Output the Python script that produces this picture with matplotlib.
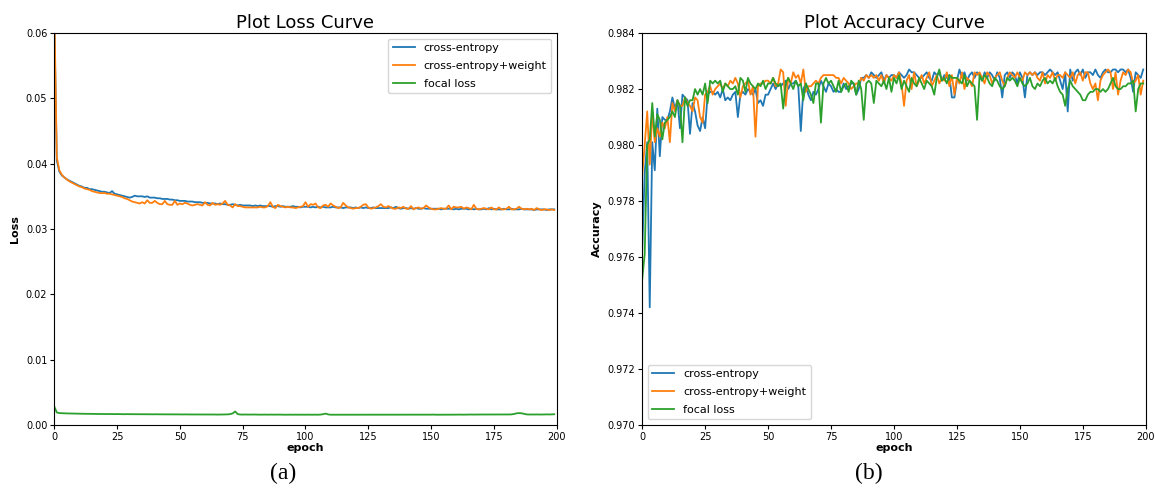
import matplotlib.pyplot as plt

epochs = list(range(200))
series_names = ["cross-entropy", "cross-entropy+weight", "focal loss"]

loss_ce = [
    0.0620, 0.0405, 0.0388, 0.0382, 0.0379, 0.0376, 0.0374, 0.0372, 0.0370, 0.0368,
    0.0366, 0.0365, 0.0363, 0.0363, 0.0361, 0.0361, 0.0360, 0.0359, 0.0358, 0.0357,
    0.0357, 0.0356, 0.0355, 0.0358, 0.0354, 0.0353, 0.0352, 0.0351, 0.0350, 0.0349,
    0.0348, 0.0349, 0.0351, 0.0350, 0.0350, 0.0350, 0.0349, 0.0350, 0.0348, 0.0348,
    0.0348, 0.0347, 0.0347, 0.0346, 0.0346, 0.0346, 0.0345, 0.0345, 0.0344, 0.0344,
    0.0343, 0.0343, 0.0343, 0.0342, 0.0342, 0.0342, 0.0341, 0.0341, 0.0341, 0.0340,
    0.0340, 0.0340, 0.0339, 0.0339, 0.0339, 0.0338, 0.0339, 0.0338, 0.0338, 0.0337,
    0.0337, 0.0338, 0.0337, 0.0336, 0.0337, 0.0336, 0.0336, 0.0336, 0.0336, 0.0335,
    0.0336, 0.0335, 0.0336, 0.0335, 0.0335, 0.0335, 0.0335, 0.0334, 0.0335, 0.0335,
    0.0334, 0.0335, 0.0334, 0.0334, 0.0334, 0.0335, 0.0334, 0.0334, 0.0333, 0.0334,
    0.0334, 0.0334, 0.0333, 0.0334, 0.0333, 0.0334, 0.0333, 0.0334, 0.0333, 0.0333,
    0.0333, 0.0334, 0.0333, 0.0333, 0.0333, 0.0332, 0.0333, 0.0333, 0.0333, 0.0332,
    0.0333, 0.0332, 0.0333, 0.0332, 0.0333, 0.0332, 0.0332, 0.0333, 0.0332, 0.0332,
    0.0332, 0.0332, 0.0332, 0.0332, 0.0333, 0.0332, 0.0334, 0.0332, 0.0331, 0.0332,
    0.0332, 0.0331, 0.0332, 0.0331, 0.0332, 0.0331, 0.0331, 0.0332, 0.0331, 0.0331,
    0.0331, 0.0331, 0.0331, 0.0331, 0.0330, 0.0331, 0.0331, 0.0331, 0.0331, 0.0330,
    0.0331, 0.0330, 0.0331, 0.0331, 0.0331, 0.0330, 0.0331, 0.0330, 0.0331, 0.0330,
    0.0330, 0.0331, 0.0330, 0.0332, 0.0330, 0.0331, 0.0330, 0.0330, 0.0330, 0.0331,
    0.0330, 0.0330, 0.0331, 0.0330, 0.0330, 0.0330, 0.0331, 0.0330, 0.0330, 0.0330,
    0.0330, 0.0329, 0.0330, 0.0330, 0.0330, 0.0330, 0.0329, 0.0330, 0.0330, 0.0330,
]

loss_cew = [
    0.0640, 0.0410, 0.0390, 0.0383, 0.0379, 0.0376, 0.0373, 0.0371, 0.0369, 0.0367,
    0.0365, 0.0364, 0.0362, 0.0361, 0.0360, 0.0358, 0.0357, 0.0356, 0.0355, 0.0355,
    0.0355, 0.0354, 0.0354, 0.0353, 0.0352, 0.0351, 0.0350, 0.0349, 0.0347, 0.0346,
    0.0344, 0.0342, 0.0341, 0.0340, 0.0339, 0.0341, 0.0339, 0.0344, 0.0340, 0.0340,
    0.0343, 0.0340, 0.0338, 0.0338, 0.0343, 0.0338, 0.0337, 0.0337, 0.0343, 0.0337,
    0.0339, 0.0338, 0.0340, 0.0339, 0.0337, 0.0336, 0.0337, 0.0338, 0.0337, 0.0336,
    0.0341, 0.0337, 0.0336, 0.0340, 0.0337, 0.0338, 0.0337, 0.0339, 0.0343, 0.0337,
    0.0336, 0.0333, 0.0338, 0.0335, 0.0335, 0.0334, 0.0333, 0.0333, 0.0333, 0.0333,
    0.0333, 0.0333, 0.0334, 0.0333, 0.0333, 0.0335, 0.0341, 0.0334, 0.0332, 0.0337,
    0.0335, 0.0334, 0.0333, 0.0334, 0.0333, 0.0333, 0.0332, 0.0333, 0.0334, 0.0335,
    0.0341, 0.0334, 0.0338, 0.0337, 0.0339, 0.0333, 0.0332, 0.0336, 0.0337, 0.0334,
    0.0339, 0.0336, 0.0334, 0.0332, 0.0333, 0.0340, 0.0336, 0.0333, 0.0332, 0.0331,
    0.0332, 0.0332, 0.0334, 0.0337, 0.0338, 0.0333, 0.0331, 0.0332, 0.0333, 0.0335,
    0.0338, 0.0334, 0.0333, 0.0335, 0.0333, 0.0331, 0.0331, 0.0333, 0.0332, 0.0334,
    0.0331, 0.0331, 0.0335, 0.0330, 0.0332, 0.0333, 0.0331, 0.0332, 0.0336, 0.0333,
    0.0331, 0.0330, 0.0330, 0.0331, 0.0332, 0.0331, 0.0331, 0.0336, 0.0330, 0.0334,
    0.0333, 0.0333, 0.0334, 0.0331, 0.0333, 0.0332, 0.0330, 0.0337, 0.0331, 0.0330,
    0.0331, 0.0332, 0.0331, 0.0330, 0.0333, 0.0330, 0.0330, 0.0333, 0.0330, 0.0330,
    0.0331, 0.0334, 0.0330, 0.0330, 0.0331, 0.0334, 0.0331, 0.0330, 0.0331, 0.0330,
    0.0331, 0.0329, 0.0332, 0.0330, 0.0329, 0.0330, 0.0330, 0.0329, 0.0330, 0.0329,
]

loss_focal = [
    0.00280, 0.00190, 0.00180, 0.00178, 0.00176, 0.00175, 0.00174, 0.00173, 0.00172, 0.00171,
    0.00170, 0.00170, 0.00169, 0.00169, 0.00168, 0.00168, 0.00167, 0.00167, 0.00166, 0.00166,
    0.00166, 0.00165, 0.00165, 0.00165, 0.00164, 0.00165, 0.00164, 0.00164, 0.00163, 0.00164,
    0.00163, 0.00163, 0.00163, 0.00162, 0.00163, 0.00162, 0.00162, 0.00162, 0.00162, 0.00161,
    0.00162, 0.00161, 0.00161, 0.00161, 0.00161, 0.00160, 0.00161, 0.00160, 0.00160, 0.00160,
    0.00160, 0.00159, 0.00160, 0.00159, 0.00159, 0.00159, 0.00160, 0.00159, 0.00158, 0.00159,
    0.00158, 0.00158, 0.00159, 0.00158, 0.00158, 0.00157, 0.00158, 0.00158, 0.00159, 0.00160,
    0.00164, 0.00175, 0.00205, 0.00165, 0.00158, 0.00157, 0.00158, 0.00157, 0.00157, 0.00158,
    0.00157, 0.00157, 0.00156, 0.00157, 0.00157, 0.00156, 0.00157, 0.00156, 0.00156, 0.00157,
    0.00156, 0.00156, 0.00155, 0.00156, 0.00156, 0.00155, 0.00156, 0.00155, 0.00156, 0.00155,
    0.00155, 0.00156, 0.00155, 0.00155, 0.00156, 0.00155, 0.00157, 0.00163, 0.00172, 0.00160,
    0.00155, 0.00155, 0.00154, 0.00155, 0.00155, 0.00154, 0.00155, 0.00154, 0.00155, 0.00154,
    0.00154, 0.00155, 0.00154, 0.00154, 0.00155, 0.00154, 0.00154, 0.00155, 0.00154, 0.00154,
    0.00154, 0.00155, 0.00154, 0.00154, 0.00155, 0.00154, 0.00155, 0.00154, 0.00154, 0.00155,
    0.00154, 0.00154, 0.00155, 0.00154, 0.00154, 0.00155, 0.00155, 0.00154, 0.00155, 0.00155,
    0.00156, 0.00157, 0.00155, 0.00155, 0.00156, 0.00155, 0.00155, 0.00156, 0.00155, 0.00156,
    0.00156, 0.00157, 0.00156, 0.00156, 0.00157, 0.00157, 0.00158, 0.00157, 0.00158, 0.00158,
    0.00158, 0.00159, 0.00158, 0.00158, 0.00159, 0.00158, 0.00159, 0.00159, 0.00158, 0.00159,
    0.00158, 0.00159, 0.00160, 0.00166, 0.00176, 0.00180, 0.00177, 0.00168, 0.00160, 0.00158,
    0.00159, 0.00158, 0.00159, 0.00158, 0.00158, 0.00159, 0.00160, 0.00159, 0.00161, 0.00162,
]

acc_ce = [
    0.9762, 0.9790, 0.9801, 0.9742, 0.9801, 0.9791, 0.9813, 0.9796, 0.9810, 0.9809,
    0.9809, 0.9812, 0.9817, 0.9813, 0.9816, 0.9806, 0.9818, 0.9817, 0.9816, 0.9804,
    0.9815, 0.9812, 0.9807, 0.9805, 0.9810, 0.9806, 0.9818, 0.9819, 0.9819, 0.9818,
    0.9819, 0.9817, 0.9820, 0.9816, 0.9817, 0.9816, 0.9818, 0.9819, 0.9810, 0.9818,
    0.9819, 0.9818, 0.9820, 0.9819, 0.9818, 0.9820, 0.9815, 0.9816, 0.9814, 0.9818,
    0.9818, 0.9820, 0.9822, 0.9820, 0.9822, 0.9821, 0.9822, 0.9823, 0.9820, 0.9822,
    0.9822, 0.9823, 0.9821, 0.9805, 0.9820, 0.9822, 0.9818, 0.9816, 0.9819, 0.9818,
    0.9820, 0.9823, 0.9821, 0.9819, 0.9822, 0.9821, 0.9819, 0.9820, 0.9819, 0.9819,
    0.9822, 0.9820, 0.9821, 0.9822, 0.9822, 0.9818, 0.9820, 0.9824, 0.9824, 0.9825,
    0.9824, 0.9826, 0.9825, 0.9824, 0.9825, 0.9826, 0.9823, 0.9825, 0.9824, 0.9825,
    0.9825, 0.9824, 0.9826, 0.9825, 0.9824, 0.9825, 0.9827, 0.9826, 0.9826, 0.9825,
    0.9824, 0.9824, 0.9825, 0.9826, 0.9824, 0.9823, 0.9826, 0.9825, 0.9826, 0.9823,
    0.9825, 0.9824, 0.9825, 0.9817, 0.9817, 0.9823, 0.9827, 0.9824, 0.9826, 0.9823,
    0.9825, 0.9826, 0.9824, 0.9826, 0.9825, 0.9823, 0.9826, 0.9824, 0.9826, 0.9825,
    0.9823, 0.9826, 0.9824, 0.9817, 0.9825, 0.9826, 0.9824, 0.9826, 0.9825, 0.9822,
    0.9826, 0.9824, 0.9817, 0.9825, 0.9826, 0.9825, 0.9826, 0.9825, 0.9826, 0.9826,
    0.9825, 0.9826, 0.9827, 0.9826, 0.9825, 0.9826, 0.9823, 0.9820, 0.9826, 0.9812,
    0.9827, 0.9823, 0.9826, 0.9827, 0.9825, 0.9827, 0.9824, 0.9826, 0.9826, 0.9825,
    0.9827, 0.9825, 0.9824, 0.9826, 0.9827, 0.9826, 0.9826, 0.9827, 0.9827, 0.9826,
    0.9827, 0.9827, 0.9826, 0.9827, 0.9824, 0.9819, 0.9826, 0.9825, 0.9824, 0.9827,
]

acc_cew = [
    0.9789, 0.9800, 0.9812, 0.9793, 0.9812, 0.9801, 0.9806, 0.9803, 0.9808, 0.9806,
    0.9810, 0.9801, 0.9815, 0.9812, 0.9816, 0.9814, 0.9814, 0.9817, 0.9815, 0.9814,
    0.9812, 0.9817, 0.9816, 0.9810, 0.9808, 0.9818, 0.9819, 0.9821, 0.9818, 0.9820,
    0.9821, 0.9822, 0.9820, 0.9822, 0.9821, 0.9823, 0.9822, 0.9824, 0.9822, 0.9817,
    0.9821, 0.9822, 0.9823, 0.9818, 0.9821, 0.9803, 0.9821, 0.9822, 0.9822, 0.9823,
    0.9823, 0.9822, 0.9824, 0.9821, 0.9822, 0.9827, 0.9826, 0.9814, 0.9824, 0.9822,
    0.9826, 0.9824, 0.9825, 0.9822, 0.9827, 0.9819, 0.9821, 0.9821, 0.9822, 0.9823,
    0.9822, 0.9824, 0.9825, 0.9825, 0.9825, 0.9825, 0.9825, 0.9824, 0.9824, 0.9822,
    0.9824, 0.9823, 0.9822, 0.9820, 0.9821, 0.9822, 0.9822, 0.9824, 0.9823, 0.9825,
    0.9824, 0.9825, 0.9824, 0.9825, 0.9823, 0.9825, 0.9822, 0.9825, 0.9824, 0.9823,
    0.9825, 0.9824, 0.9826, 0.9822, 0.9814, 0.9823, 0.9825, 0.9820, 0.9826, 0.9821,
    0.9823, 0.9825, 0.9822, 0.9824, 0.9826, 0.9821, 0.9823, 0.9825, 0.9822, 0.9824,
    0.9823, 0.9826, 0.9821, 0.9825, 0.9818, 0.9824, 0.9822, 0.9826, 0.9820, 0.9824,
    0.9823, 0.9821, 0.9826, 0.9825, 0.9826, 0.9824, 0.9822, 0.9826, 0.9825, 0.9822,
    0.9824, 0.9825, 0.9826, 0.9823, 0.9821, 0.9824, 0.9826, 0.9825, 0.9824, 0.9826,
    0.9824, 0.9823, 0.9826, 0.9825, 0.9826, 0.9825, 0.9826, 0.9824, 0.9823, 0.9826,
    0.9822, 0.9825, 0.9824, 0.9826, 0.9823, 0.9825, 0.9825, 0.9824, 0.9826, 0.9825,
    0.9824, 0.9826, 0.9822, 0.9825, 0.9826, 0.9823, 0.9826, 0.9826, 0.9822, 0.9820,
    0.9822, 0.9816, 0.9823, 0.9825, 0.9826, 0.9827, 0.9826, 0.9820, 0.9826, 0.9818,
    0.9823, 0.9826, 0.9825, 0.9827, 0.9826, 0.9822, 0.9823, 0.9825, 0.9818, 0.9823,
]

acc_focal = [
    0.9752, 0.9761, 0.9800, 0.9802, 0.9815, 0.9803, 0.9811, 0.9809, 0.9802, 0.9808,
    0.9809, 0.9810, 0.9812, 0.9810, 0.9816, 0.9814, 0.9801, 0.9817, 0.9814, 0.9816,
    0.9816, 0.9820, 0.9818, 0.9820, 0.9818, 0.9822, 0.9815, 0.9823, 0.9822, 0.9823,
    0.9822, 0.9823, 0.9819, 0.9822, 0.9821, 0.9820, 0.9820, 0.9821, 0.9818, 0.9824,
    0.9823, 0.9819, 0.9824, 0.9822, 0.9821, 0.9820, 0.9822, 0.9821, 0.9823, 0.9820,
    0.9822, 0.9822, 0.9824, 0.9822, 0.9821, 0.9822, 0.9813, 0.9822, 0.9824, 0.9822,
    0.9820, 0.9823, 0.9821, 0.9822, 0.9816, 0.9822, 0.9820, 0.9818, 0.9815, 0.9822,
    0.9822, 0.9808, 0.9822, 0.9824, 0.9822, 0.9823, 0.9821, 0.9819, 0.9823, 0.9819,
    0.9821, 0.9822, 0.9819, 0.9823, 0.9822, 0.9818, 0.9823, 0.9820, 0.9809, 0.9822,
    0.9823, 0.9822, 0.9815, 0.9823, 0.9822, 0.9821, 0.9823, 0.9820, 0.9824, 0.9819,
    0.9824, 0.9822, 0.9825, 0.9820, 0.9823, 0.9821, 0.9819, 0.9824, 0.9822, 0.9821,
    0.9824, 0.9822, 0.9820, 0.9823, 0.9822, 0.9821, 0.9818, 0.9824, 0.9827, 0.9823,
    0.9824, 0.9822, 0.9825, 0.9824, 0.9824, 0.9824, 0.9823, 0.9822, 0.9825, 0.9821,
    0.9823, 0.9822, 0.9821, 0.9809, 0.9825, 0.9823, 0.9825, 0.9824, 0.9822, 0.9821,
    0.9824, 0.9823, 0.9821, 0.9820, 0.9821, 0.9824, 0.9823, 0.9824, 0.9823, 0.9821,
    0.9824, 0.9822, 0.9821, 0.9822, 0.9824, 0.9821, 0.9820, 0.9822, 0.9821, 0.9823,
    0.9824, 0.9822, 0.9823, 0.9822, 0.9824, 0.9821, 0.9819, 0.9818, 0.9814, 0.9820,
    0.9823, 0.9821, 0.9820, 0.9819, 0.9818, 0.9816, 0.9816, 0.9818, 0.9819, 0.9819,
    0.9820, 0.9820, 0.9819, 0.9820, 0.9819, 0.9820, 0.9822, 0.9824, 0.9821, 0.9820,
    0.9820, 0.9821, 0.9821, 0.9822, 0.9822, 0.9823, 0.9812, 0.9820, 0.9822, 0.9822,
]

fig = plt.figure(figsize=(11.55, 4.94), dpi=100)
ax1 = fig.add_axes([0.047, 0.140, 0.435, 0.793])
ax2 = fig.add_axes([0.556, 0.140, 0.436, 0.793])

for ys, name in zip([loss_ce, loss_cew, loss_focal], series_names):
    ax1.plot(epochs, ys, label=name, linewidth=1.3)
ax1.set_xlim(0, 200)
ax1.set_ylim(0, 0.06)
ax1.set_title("Plot Loss Curve", fontsize=13, pad=4)
ax1.set_xlabel("epoch", fontweight="bold", fontsize=8, labelpad=1)
ax1.set_ylabel("Loss", fontweight="bold", fontsize=8, labelpad=4)
ax1.legend(loc="upper right", fontsize=8, labelspacing=0.7)

for ys, name in zip([acc_ce, acc_cew, acc_focal], series_names):
    ax2.plot(epochs, ys, label=name, linewidth=1.3)
ax2.set_xlim(0, 200)
ax2.set_ylim(0.970, 0.984)
ax2.set_title("Plot Accuracy Curve", fontsize=13, pad=4)
ax2.set_xlabel("epoch", fontweight="bold", fontsize=8, labelpad=1)
ax2.set_ylabel("Accuracy", fontweight="bold", fontsize=8, labelpad=4)
ax2.legend(loc="lower left", fontsize=8, labelspacing=0.7)

for ax in (ax1, ax2):
    ax.tick_params(labelsize=7, length=3, pad=2)

fig.text(0.245, 0.03, "(a)", fontsize=17, family="Liberation Serif", ha="center")
fig.text(0.752, 0.03, "(b)", fontsize=17, family="Liberation Serif", ha="center")

fig.savefig("out.png", dpi=100)
